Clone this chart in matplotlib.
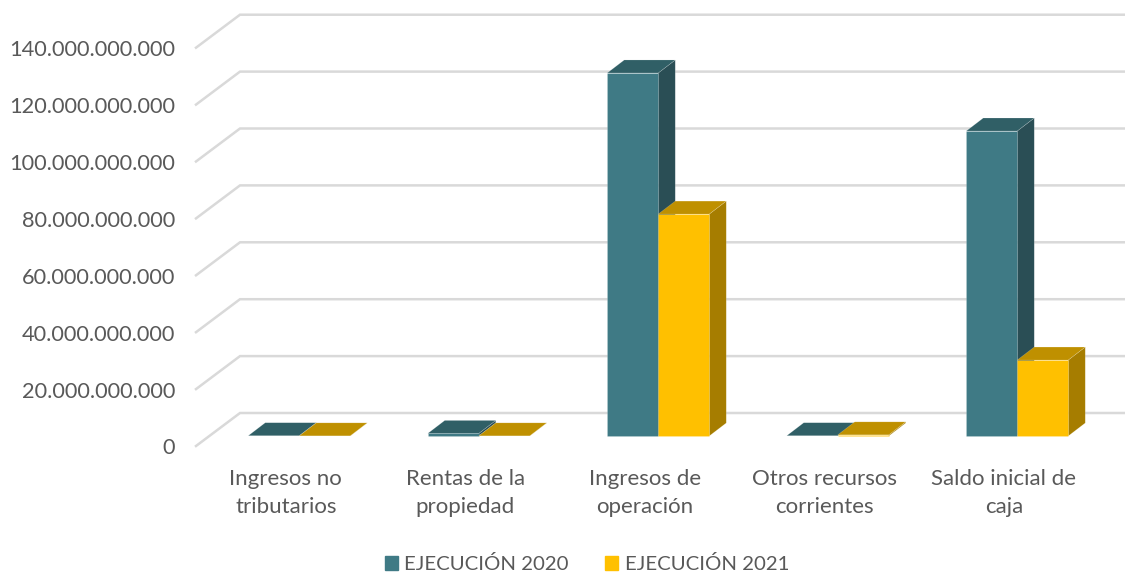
import matplotlib
matplotlib.use('Agg')
import matplotlib.pyplot as plt
from matplotlib.patches import Polygon, Patch

categories = ['Ingresos no\ntributarios', 'Rentas de la\npropiedad', 'Ingresos de\noperación',
              'Otros recursos\ncorrientes', 'Saldo inicial de\ncaja']
ejecucion_2020 = [100000000, 900000000, 127600000000, 100000000, 107200000000]
ejecucion_2021 = [50000000, 50000000, 78000000000, 400000000, 26700000000]
ticks = [0, 20000000000, 40000000000, 60000000000, 80000000000, 100000000000, 120000000000, 140000000000]
series_names = ['EJECUCIÓN 2020', 'EJECUCIÓN 2021']

plt.rcParams['font.family'] = ['Lato', 'DejaVu Sans']
text_color = '#595959'
grid_color = '#d9d9d9'

# front, top, side
teal = ['#3f7a85', '#305f66', '#2a4e55']
gold = ['#ffc000', '#bf9000', '#a67d00']

# one category = 179.5 px, 20.000 million = 56.9 px
px_x = 1 / 179.5
px_y = 20000000000 / 56.9

fig = plt.figure(figsize=(11.25, 5.73), dpi=100)
ax = fig.add_axes([0, 0, 1, 1])
ax.set_xlim(-196 * px_x, (1125 - 196) * px_x)
ax.set_ylim(-127 * px_y, 446 * px_y)
ax.axis('off')

depth_x = 44 * px_x
depth_y = 33 * px_y
bar_w = 51 * px_x
bar_dx = 17 * px_x
bar_dy = 13 * px_y
shift_x = (depth_x - bar_dx) / 2
shift_y = (depth_y - bar_dy) / 2

for t in ticks:
    ax.plot([0, depth_x, 6], [t, t + depth_y, t + depth_y], color=grid_color, lw=1.8,
            solid_joinstyle='miter', zorder=1)
    ax.text(-21 * px_x, t - 2.5 * px_y, f'{t:,}'.replace(',', '.'), ha='right', va='center',
            fontsize=15.7, color=text_color)


def draw_bar(x, val, colors):
    x0 = x + shift_x
    x1 = x0 + bar_w
    y0 = shift_y
    y1 = shift_y + val
    edge = {'edgecolor': '#ffffff40', 'linewidth': 0.4, 'zorder': 3}
    ax.add_patch(Polygon([(x1, y0), (x1 + bar_dx, y0 + bar_dy), (x1 + bar_dx, y1 + bar_dy), (x1, y1)],
                         facecolor=colors[2], **edge))
    ax.add_patch(Polygon([(x0, y1), (x1, y1), (x1 + bar_dx, y1 + bar_dy), (x0 + bar_dx, y1 + bar_dy)],
                         facecolor=colors[1], **edge))
    ax.add_patch(Polygon([(x0, y0), (x1, y0), (x1, y1), (x0, y1)], facecolor=colors[0], **edge))


for i in range(len(categories)):
    draw_bar(i + 0.5 - bar_w, ejecucion_2020[i], teal)
    draw_bar(i + 0.5, ejecucion_2021[i], gold)
    ax.text(i + 0.5, -47 * px_y, categories[i], ha='center', va='center', fontsize=16,
            color=text_color, linespacing=1.5)

handles = [Patch(color=teal[0], label=series_names[0]), Patch(color=gold[0], label=series_names[1])]
fig.legend(handles=handles, loc='center', bbox_to_anchor=(0.5218, 0.0155), ncol=2, frameon=False,
           fontsize=14.7, labelcolor=text_color, handlelength=0.62, handleheight=0.62,
           handletextpad=0.32, columnspacing=1.8, borderpad=0)

fig.savefig('out.png', dpi=100)
